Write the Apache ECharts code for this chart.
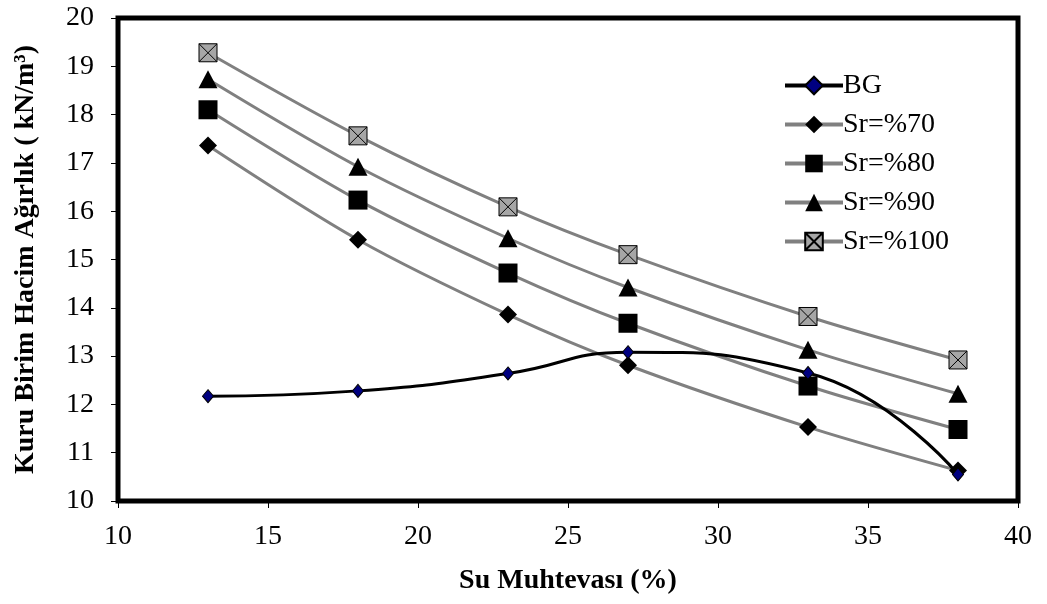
<!DOCTYPE html>
<html>
<head>
<meta charset="utf-8">
<script src="https://cdn.jsdelivr.net/npm/echarts@6/dist/echarts.min.js"></script>
<style>
  html, body { margin: 0; padding: 0; background: #fff; }
  #main { width: 1047px; height: 604px; }
</style>
</head>
<body>
<div id="main"></div>
<script>
  // su muhtevasi (%) values on the x axis
  var xValues = [13, 18, 23, 27, 33, 38];

  var bg    = [12.17, 12.28, 12.64, 13.08, 12.65, 10.55];
  var sr70  = [17.36, 15.41, 13.86, 12.81, 11.53, 10.63];
  var sr80  = [18.10, 16.23, 14.72, 13.68, 12.38, 11.48];
  var sr90  = [18.73, 16.92, 15.44, 14.42, 13.13, 12.22];
  var sr100 = [19.28, 17.56, 16.09, 15.10, 13.82, 12.92];

  var seriesNames = ['BG', 'Sr=%70', 'Sr=%80', 'Sr=%90', 'Sr=%100'];

  function pairs(ys) {
    var out = [];
    for (var i = 0; i < xValues.length; i++) {
      out.push([xValues[i], ys[i]]);
    }
    return out;
  }

  var serif = '"Liberation Serif", "Times New Roman", serif';
  var myChart = echarts.init(document.getElementById('main'));

  var option = {
    backgroundColor: '#fff',
    animation: false,
    grid: {
      left: 118,
      right: 29,
      top: 18,
      bottom: 103,
      show: true,
      borderColor: '#000',
      borderWidth: 5
    },
    legend: {
      data: seriesNames,
      orient: 'vertical',
      left: 778,
      top: 65,
      itemWidth: 58,
      itemHeight: 22,
      itemGap: 8,
      lineStyle: { width: 4 },
      textStyle: {
        fontFamily: serif,
        fontSize: 28,
        lineHeight: 31,
        color: '#000',
        padding: [0, 0, 0, -5]
      }
    },
    xAxis: {
      type: 'value',
      min: 10,
      max: 40,
      interval: 5,
      name: 'Su Muhtevası (%)',
      nameLocation: 'middle',
      nameGap: 66,
      nameTextStyle: {
        fontFamily: serif,
        fontSize: 28,
        fontWeight: 'bold',
        color: '#000'
      },
      axisLine: { show: false },
      axisTick: { show: true, inside: false, length: 7, lineStyle: { color: '#000', width: 1 } },
      axisLabel: { fontFamily: serif, fontSize: 28, color: '#000', margin: 22 },
      splitLine: { show: false }
    },
    yAxis: {
      type: 'value',
      min: 10,
      max: 20,
      interval: 1,
      name: 'Kuru Birim Hacim Ağırlık ( kN/m³)',
      nameLocation: 'middle',
      nameGap: 78,
      nameRotate: 90,
      nameTextStyle: {
        fontFamily: serif,
        fontSize: 28,
        fontWeight: 'bold',
        color: '#000'
      },
      axisLine: { show: false },
      axisTick: { show: true, inside: false, length: 7, lineStyle: { color: '#000', width: 1 } },
      axisLabel: { fontFamily: serif, fontSize: 28, color: '#000', margin: 24 },
      splitLine: { show: false }
    },
    series: [
      {
        name: 'BG',
        type: 'line',
        data: pairs(bg),
        smooth: 0.5,
        symbol: 'diamond',
        symbolSize: [11, 13],
        lineStyle: { color: '#000', width: 3 },
        itemStyle: { color: '#000080', borderColor: '#000', borderWidth: 1 },
        z: 5
      },
      {
        name: 'Sr=%70',
        type: 'line',
        data: pairs(sr70),
        smooth: 0.3,
        symbol: 'diamond',
        symbolSize: 18,
        lineStyle: { color: '#808080', width: 3 },
        itemStyle: { color: '#000' },
        z: 3
      },
      {
        name: 'Sr=%80',
        type: 'line',
        data: pairs(sr80),
        smooth: 0.3,
        symbol: 'rect',
        symbolSize: 19,
        lineStyle: { color: '#808080', width: 3 },
        itemStyle: { color: '#000' },
        z: 3
      },
      {
        name: 'Sr=%90',
        type: 'line',
        data: pairs(sr90),
        smooth: 0.3,
        symbol: 'triangle',
        symbolSize: [19, 18],
        lineStyle: { color: '#808080', width: 3 },
        itemStyle: { color: '#000' },
        z: 3
      },
      {
        name: 'Sr=%100',
        type: 'line',
        data: pairs(sr100),
        smooth: 0.3,
        // gray box with a thin black cross
        symbol: 'path://M0,0 L10,0 L10,10 L0,10 Z M0,0 L10,10 M10,0 L0,10',
        symbolSize: 18,
        lineStyle: { color: '#808080', width: 3 },
        itemStyle: { color: '#a6a6a6', borderColor: '#000', borderWidth: 1 },
        z: 3
      }
    ]
  };

  myChart.setOption(option);
</script>
</body>
</html>
